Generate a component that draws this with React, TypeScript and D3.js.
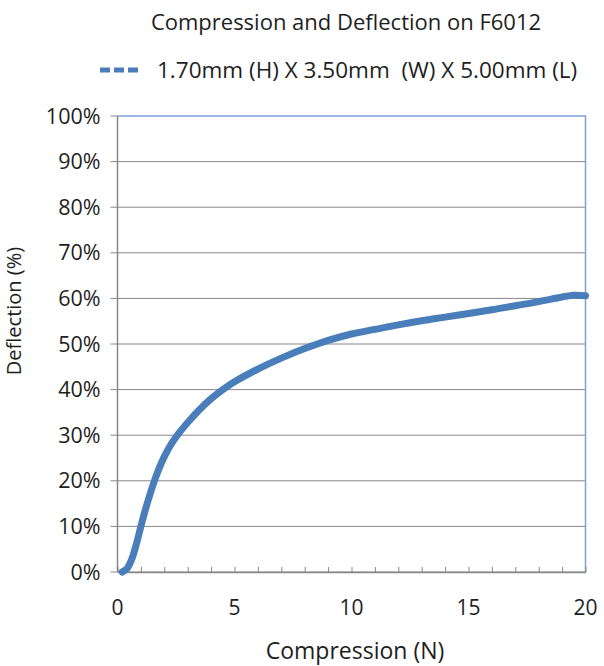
import React, { useEffect, useRef } from 'react';
import * as d3 from 'd3';

// compression (N) vs deflection (%)
const compression = [0.2, 0.4, 0.6, 0.8, 1.0, 1.2, 1.4, 1.6, 1.8, 2.0, 2.3, 2.6, 3.0, 3.5, 4.0, 4.5, 5.0, 6.0, 7.0, 8.0, 9.0, 10.0, 11.0, 12.0, 13.0, 14.0, 15.0, 16.0, 17.0, 18.0, 19.0, 19.5, 20.0];
const deflection = [0, 0.7, 2.7, 6, 10, 13.8, 17.2, 20.3, 23.0, 25.3, 28.1, 30.3, 32.8, 35.6, 38.0, 40.0, 41.7, 44.5, 46.9, 49.0, 50.8, 52.2, 53.2, 54.2, 55.1, 55.9, 56.7, 57.5, 58.4, 59.3, 60.3, 60.7, 60.6];
const xTicks = [0, 5, 10, 15, 20];
const yTicks = [0, 10, 20, 30, 40, 50, 60, 70, 80, 90, 100];

const title = 'Compression and Deflection on F6012';
const seriesName = '1.70mm (H) X 3.50mm  (W) X 5.00mm (L)';

const App: React.FC = () => {
  const ref = useRef<SVGSVGElement | null>(null);

  useEffect(() => {
    if (!ref.current) return;
    const W = 604, H = 666;
    const margin = { top: 116, right: 18.5, bottom: 94, left: 117.5 };
    const width = W - margin.left - margin.right;
    const height = H - margin.top - margin.bottom;
    const font = '"Open Sans", sans-serif';
    const grey = '#878787';
    const blue = '#4a7ebb';
    const ink = '#1e1e1e';

    const root = d3.select(ref.current).attr('width', W).attr('height', H);
    root.selectAll('*').remove();

    const x = d3.scaleLinear().domain([0, 20]).range([0, width]);
    const y = d3.scaleLinear().domain([0, 100]).range([height, 0]);

    root.append('text')
      .attr('x', 346).attr('y', 22).attr('dy', '0.35em')
      .attr('text-anchor', 'middle')
      .style('font-family', font).style('font-size', '22px').style('fill', ink)
      .text(title);

    // legend
    root.append('line')
      .attr('x1', 100).attr('x2', 138).attr('y1', 70).attr('y2', 70)
      .style('stroke', blue).style('stroke-width', 5).style('stroke-dasharray', '10,4');
    root.append('text')
      .attr('x', 157).attr('y', 70).attr('dy', '0.35em')
      .attr('xml:space', 'preserve').style('white-space', 'pre')
      .style('font-family', font).style('font-size', '22.5px').style('fill', ink)
      .text(seriesName);

    const g = root.append('g').attr('transform', `translate(${margin.left},${margin.top})`);

    // gridlines + outward y ticks
    g.append('g').selectAll('line').data(yTicks.slice(0, -1)).join('line')
      .attr('x1', -7).attr('x2', width)
      .attr('y1', d => y(d)).attr('y2', d => y(d))
      .style('stroke', grey).style('stroke-width', 1);

    // plot border: top and right in blue
    g.append('line').attr('x1', -7).attr('x2', 0).attr('y1', 0).attr('y2', 0)
      .style('stroke', grey);
    g.append('path')
      .attr('d', `M0,0H${width}V${height}`)
      .style('fill', 'none').style('stroke', '#7ba2d8').style('stroke-width', 1.5);

    g.append('line').attr('x1', 0).attr('x2', 0).attr('y1', 0).attr('y2', height)
      .style('stroke', grey).style('stroke-width', 1.5);

    // x axis with inward ticks every 1 N
    const xAxis = d3.axisBottom(x).tickValues(d3.range(0, 21)).tickSizeInner(-5).tickSizeOuter(0).tickFormat(() => '');
    const xa = g.append('g').attr('transform', `translate(0,${height})`).call(xAxis);
    xa.select('.domain').style('stroke', grey).style('stroke-width', 1.5);
    xa.selectAll('.tick line').style('stroke', grey);

    g.append('g').selectAll('text').data(xTicks).join('text')
      .attr('x', d => x(d)).attr('y', height + 36).attr('dy', '0.35em')
      .attr('text-anchor', 'middle')
      .style('font-family', font).style('font-size', '21px').style('fill', ink)
      .text(d => d);

    g.append('g').selectAll('text').data(yTicks).join('text')
      .attr('x', -17).attr('y', d => y(d)).attr('dy', '0.35em')
      .attr('text-anchor', 'end')
      .style('font-family', font).style('font-size', '21.5px').style('fill', ink)
      .text(d => `${d}%`);

    // axis titles
    root.append('text')
      .attr('transform', 'translate(14,311) rotate(-90)')
      .attr('dy', '0.35em').attr('text-anchor', 'middle')
      .style('font-family', font).style('font-size', '20px').style('fill', ink)
      .text('Deflection (%)');
    root.append('text')
      .attr('x', 355).attr('y', 651).attr('dy', '0.35em').attr('text-anchor', 'middle')
      .style('font-family', font).style('font-size', '23px').style('fill', ink)
      .text('Compression (N)');

    const line = d3.line<number>()
      .x((_, i) => x(compression[i]))
      .y(d => y(d))
      .curve(d3.curveCatmullRom.alpha(0.5));

    g.append('path')
      .datum(deflection)
      .attr('d', line)
      .style('fill', 'none').style('stroke', blue).style('stroke-width', 7)
      .style('stroke-linecap', 'round');
  }, []);

  return <svg ref={ref} style={{ position: 'absolute', left: 0, top: 0 }} />;
};

export default App;
